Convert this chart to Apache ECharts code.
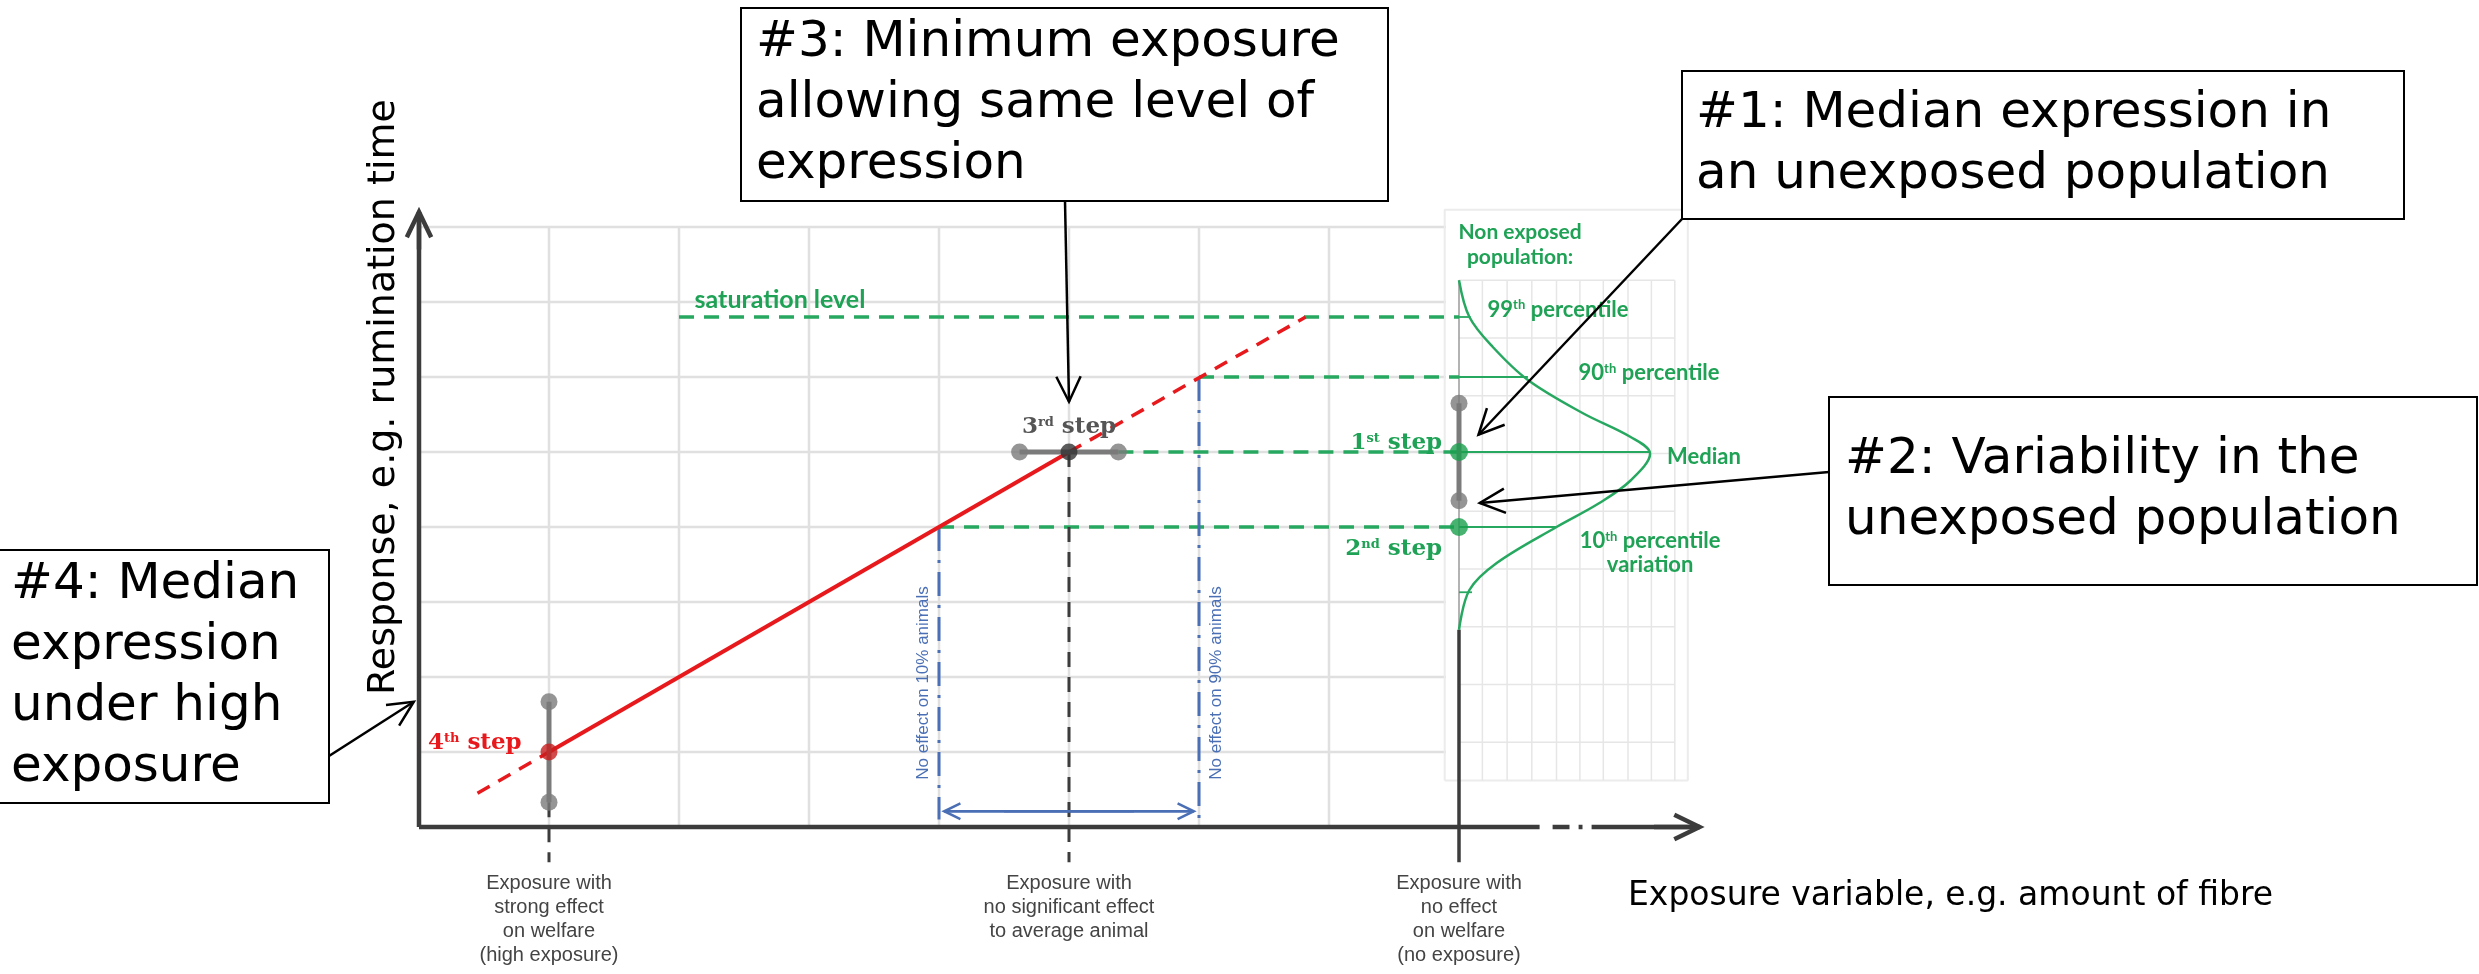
<!DOCTYPE html>
<html><head><meta charset="utf-8">
<script src="https://cdn.jsdelivr.net/npm/echarts@6/dist/echarts.min.js"></script>
<style>html,body{margin:0;padding:0;background:#fff}#c{width:2479px;height:974px}</style>
</head><body><div id="c"></div>
<script>
// ---------- data (in plot units: x = exposure, y = response) ----------
const xTickValues = [1, 5, 8];
const xTickLabels = [
  'Exposure with\nstrong effect\non welfare\n(high exposure)',
  'Exposure with\nno significant effect\nto average animal',
  'Exposure with\nno effect\non welfare\n(no exposure)'
];
const gridXs = [1, 2, 3, 4, 5, 6, 7];
const gridYs = [1, 2, 3, 4, 5, 6, 7, 8];
const panelXs = [8.18, 8.37, 8.56, 8.75, 8.93, 9.11, 9.30, 9.48, 9.66];
const panelYs = [7.29, 6.52, 5.75, 4.98, 4.21, 3.44, 2.67, 1.90, 1.13];
const panelBounds = [7.89, 0.62, 9.76, 8.23];
const responseSolid = [[1, 1], [5, 5]];
const responseLow = [[0.45, 0.45], [1, 1]];
const responseHigh = [[5, 5], [6.82, 6.8]];
const saturationLine = [[2, 6.8], [8, 6.8]];
const p90Line = [[6, 6], [8, 6]];
const medianLine = [[5.38, 5], [8, 5]];
const p10Line = [[4, 4], [8, 4]];
const effect10Line = [[4, 4], [4, 0.1]];
const effect90Line = [[6, 6], [6, 0.1]];
const effectSpan = [[4.04, 0.21], [5.96, 0.21]];
const drop3 = [[5, 5], [5, -0.47]];
const drop4 = [[1, 0.33], [1, -0.47]];
const noExposureLine = [[8, 2.63], [8, -0.47]];
const range4 = [[1, 0.33], [1, 1.67]];
const range3 = [[4.62, 5], [5.38, 5]];
const range1 = [[8, 4.35], [8, 5.65]];
const distBase = [[8, 7.29], [8, 2.63]];
const distCurve = [[8.0, 7.29], [8.08, 6.8], [8.26, 6.4], [8.53, 5.96], [8.95, 5.52], [9.32, 5.2], [9.47, 4.98],
  [9.32, 4.62], [9.08, 4.32], [8.75, 4.0], [8.29, 3.52], [8.08, 3.16], [8.0, 2.63]];
const pctLevels = [6.8, 6, 5, 4, 3.13];
const pctEnds = [8.09, 8.53, 9.47, 8.75, 8.1];
const xAxisPieces = [[0, 8.62], [8.72, 8.85], [8.92, 8.95], [9.02, 9.85]];
const yAxisTop = 8.2;

// ---------- styles ----------
const GREEN = '#27a860', GREEN_T = '#1fa255', RED = '#e8191c', GRAY = '#7b7b7b', BLUE = '#4a6fb5', DARK = '#3c3c3c';
const GRIDC = '#e0e0e0';

function seg(data, color, width, type, z, smooth) {
  return {type: 'line', data, symbol: 'none', clip: false, silent: true, animation: false, z: z || 2,
    smooth: smooth || false, lineStyle: {color, width, type: type || 'solid', cap: 'butt'}};
}
function dots(data, color, size, z) {
  return {type: 'scatter', data, symbolSize: size, itemStyle: {color}, clip: false, silent: true, animation: false, z: z || 6};
}

const series = [];
gridXs.forEach(x => series.push(seg([[x, 0], [x, 8]], GRIDC, 2.5, 'solid', 1)));
gridYs.forEach(y => series.push(seg([[0, y], [7.9, y]], GRIDC, 2.5, 'solid', 1)));
// panel
const [pl, pb, pr, pt] = panelBounds;
series.push(seg([[pl, pb], [pl, pt], [pr, pt], [pr, pb], [pl, pb]], '#ececec', 2, 'solid', 1));
panelXs.forEach(x => series.push(seg([[x, pb], [x, 7.29]], '#e6e6e6', 1.5, 'solid', 1)));
panelYs.forEach(y => series.push(seg([[8, y], [9.66, y]], '#e6e6e6', 1.5, 'solid', 1)));
series.push(seg(distBase, '#9a9a9a', 1.5, 'solid', 2));
pctLevels.forEach((y, i) => series.push(seg([[8, y], [pctEnds[i], y]], GREEN, 1.8, 'solid', 3)));
series.push(seg(distCurve, GREEN, 2.5, 'solid', 4, 0.35));
// levels
series.push(seg(saturationLine, GREEN, 3.5, [15, 10], 3));
series.push(seg(p90Line, GREEN, 3.5, [15, 10], 3));
series.push(seg(medianLine, GREEN, 3.5, [15, 10], 3));
series.push(seg(p10Line, GREEN, 3.5, [15, 10], 3));
// effect lines
series.push(seg(effect10Line, BLUE, 3, [24, 9, 3, 9], 3));
series.push(seg(effect90Line, BLUE, 3, [24, 9, 3, 9], 3));
series.push(seg(effectSpan, BLUE, 2.5, 'solid', 3));
series.push(seg(drop3, DARK, 3, [15, 10], 3));
series.push(seg(drop4, DARK, 3, [15, 10], 3));
series.push(seg(noExposureLine, DARK, 3.5, 'solid', 3));
// response
series.push(seg(responseSolid, RED, 4, 'solid', 5));
series.push(seg(responseLow, RED, 3.5, [14, 10], 5));
series.push(seg(responseHigh, RED, 3.5, [14, 10], 5));
// ranges
series.push(seg(range4, GRAY, 5, 'solid', 5));
series.push(seg(range3, GRAY, 5, 'solid', 5));
series.push(seg(range1, GRAY, 5, 'solid', 5));
series.push(dots([range4[0], range4[1], range3[0], range3[1], range1[0], range1[1]], GRAY, 17, 6));
series.push(dots([[1, 1]], '#c81e1e', 17, 7));
series.push(dots([[5, 5]], '#333333', 17, 7));
series.push(dots([[8, 5], [8, 4]], '#1a9f4e', 18, 7));
// axes
xAxisPieces.forEach(p => series.push(seg([[p[0], 0], [p[1], 0]], DARK, 4.5, 'solid', 8)));
series.push(seg([[0, 0], [0, yAxisTop]], DARK, 4.5, 'solid', 8));

const chart = echarts.init(document.getElementById('c'), null, {renderer: 'canvas'});
chart.setOption({
  animation: false,
  backgroundColor: '#fff',
  grid: {left: 419, top: 227, width: 1300, height: 600, containLabel: false},
  xAxis: {type: 'value', min: 0, max: 10, interval: 1, axisLine: {show: false}, axisTick: {show: false},
    splitLine: {show: false},
    axisLabel: {customValues: xTickValues, formatter: v => { const i = xTickValues.indexOf(v); return i >= 0 ? xTickLabels[i] : ''; },
      margin: 44, color: '#444', fontFamily: 'Liberation Sans', fontSize: 20, lineHeight: 24, align: 'center', verticalAlign: 'top'}},
  yAxis: {type: 'value', min: 0, max: 8, interval: 1, show: false},
  series
});

// ---------- annotations ----------
const P = (x, y) => chart.convertToPixel({gridIndex: 0}, [x, y]);
const G = [];
const BOXFONT = {fontFamily: 'DejaVu Sans', fontSize: 50, fill: '#000', lineHeight: 61};
function box(x, y, w, h, text, pad) {
  G.push({type: 'rect', z: 20, shape: {x, y, width: w, height: h}, style: {fill: '#fff', stroke: '#000', lineWidth: 2}});
  G.push({type: 'text', z: 21, x: x + pad, y: y + h / 2, style: Object.assign({text, align: 'left', verticalAlign: 'middle'}, BOXFONT)});
}
function arrow(t, tip, head, lw, color) {
  const dx = tip[0] - t[0], dy = tip[1] - t[1], L = Math.hypot(dx, dy), ux = dx / L, uy = dy / L;
  const a = 0.45, h = head || 26;
  const w1 = [tip[0] - h * (ux * Math.cos(a) - uy * Math.sin(a)), tip[1] - h * (uy * Math.cos(a) + ux * Math.sin(a))];
  const w2 = [tip[0] - h * (ux * Math.cos(a) + uy * Math.sin(a)), tip[1] - h * (uy * Math.cos(a) - ux * Math.sin(a))];
  G.push({type: 'polyline', z: 22, shape: {points: [t, tip]}, style: {stroke: color || '#000', lineWidth: lw || 2.5}});
  G.push({type: 'polyline', z: 22, shape: {points: [w1, tip, w2]}, style: {stroke: color || '#000', lineWidth: lw || 2.5, fill: null}});
}
function label(pos, text, opts, rot) {
  const p = P(pos[0], pos[1]);
  G.push({type: 'text', z: 15, x: p[0], y: p[1], rotation: rot || 0, style: Object.assign({text}, opts)});
}

// axis arrowheads
arrow(P(0, yAxisTop - 0.5), P(0, yAxisTop), 28, 4.5, DARK);
arrow(P(9.5, 0), P(xAxisPieces[3][1], 0), 28, 4.5, DARK);
arrow(P(5.5, 0.21), P(effectSpan[0][0], 0.21), 18, 2.5, BLUE);
arrow(P(4.5, 0.21), P(effectSpan[1][0], 0.21), 18, 2.5, BLUE);

// callout boxes
box(741, 8, 647, 193, '#3: Minimum exposure\nallowing same level of\nexpression', 15);
box(1682, 71, 722, 148, '#1: Median expression in\nan unexposed population', 14);
box(1829, 397, 648, 188, '#2: Variability in the\nunexposed population', 16);
box(-3, 550, 332, 253, '#4: Median\nexpression\nunder high\nexposure', 14);
arrow([1065, 201], P(5, 5.67), 28);
arrow([1682, 219], P(8.15, 5.23), 28);
arrow([1829, 472], P(8.16, 4.32), 28);
arrow([329, 756], P(-0.04, 1.67), 28);

// axis titles
G.push({type: 'text', z: 15, x: 384, y: 397, rotation: Math.PI / 2,
  style: {text: 'Response, e.g. rumination time', fontFamily: 'DejaVu Sans', fontSize: 38, fill: '#000', align: 'center', verticalAlign: 'middle'}});
G.push({type: 'text', z: 15, x: 1628, y: 896,
  style: {text: 'Exposure variable, e.g. amount of fibre', fontFamily: 'DejaVu Sans', fontSize: 33, fill: '#000', align: 'left', verticalAlign: 'middle'}});

// inner labels
const small = {fontFamily: 'Lato', fontWeight: 'bold', fontSize: 22, fill: GREEN_T, verticalAlign: 'middle'};
const supG = {s: {fontSize: 13, fontFamily: 'Lato', fontWeight: 'bold', fill: GREEN_T, padding: [0, 0, 9, 0]}};
label([2.12, 7.03], 'saturation level', Object.assign({}, small, {align: 'left', fontSize: 25}));
label([8.47, 7.76], 'Non exposed\npopulation:', Object.assign({}, small, {align: 'center', lineHeight: 25, fontSize: 21}));
label([8.22, 6.9], '99{s|th} percentile', Object.assign({}, small, {align: 'left', rich: supG}));
label([8.92, 6.05], '90{s|th} percentile', Object.assign({}, small, {align: 'left', rich: supG}));
label([9.6, 4.93], 'Median', Object.assign({}, small, {align: 'left'}));
label([9.47, 3.65], '10{s|th} percentile\nvariation', Object.assign({}, small, {align: 'center', lineHeight: 24, rich: supG}));
const stepFont = {fontFamily: 'DejaVu Serif', fontWeight: 'bold', fontSize: 23, verticalAlign: 'middle'};
function stepRich(c) { return {s: {fontSize: 13, fontFamily: 'DejaVu Serif', fontWeight: 'bold', fill: c, padding: [0, 0, 9, 0]}}; }
label([5, 5.33], '3{s|rd} step', Object.assign({}, stepFont, {fill: '#555', align: 'center', rich: stepRich('#555')}));
label([7.87, 5.12], '1{s|st} step', Object.assign({}, stepFont, {fill: GREEN_T, align: 'right', rich: stepRich(GREEN_T)}));
label([7.87, 3.71], '2{s|nd} step', Object.assign({}, stepFont, {fill: GREEN_T, align: 'right', rich: stepRich(GREEN_T)}));
label([0.79, 1.12], '4{s|th} step', Object.assign({}, stepFont, {fill: RED, align: 'right', rich: stepRich(RED)}));
const blueFont = {fontFamily: 'Liberation Sans', fontSize: 17, fill: BLUE, align: 'center', verticalAlign: 'middle'};
label([3.88, 1.92], 'No effect on 10% animals', blueFont, Math.PI / 2);
label([6.13, 1.92], 'No effect on 90% animals', blueFont, Math.PI / 2);

chart.setOption({graphic: G});
</script></body></html>
